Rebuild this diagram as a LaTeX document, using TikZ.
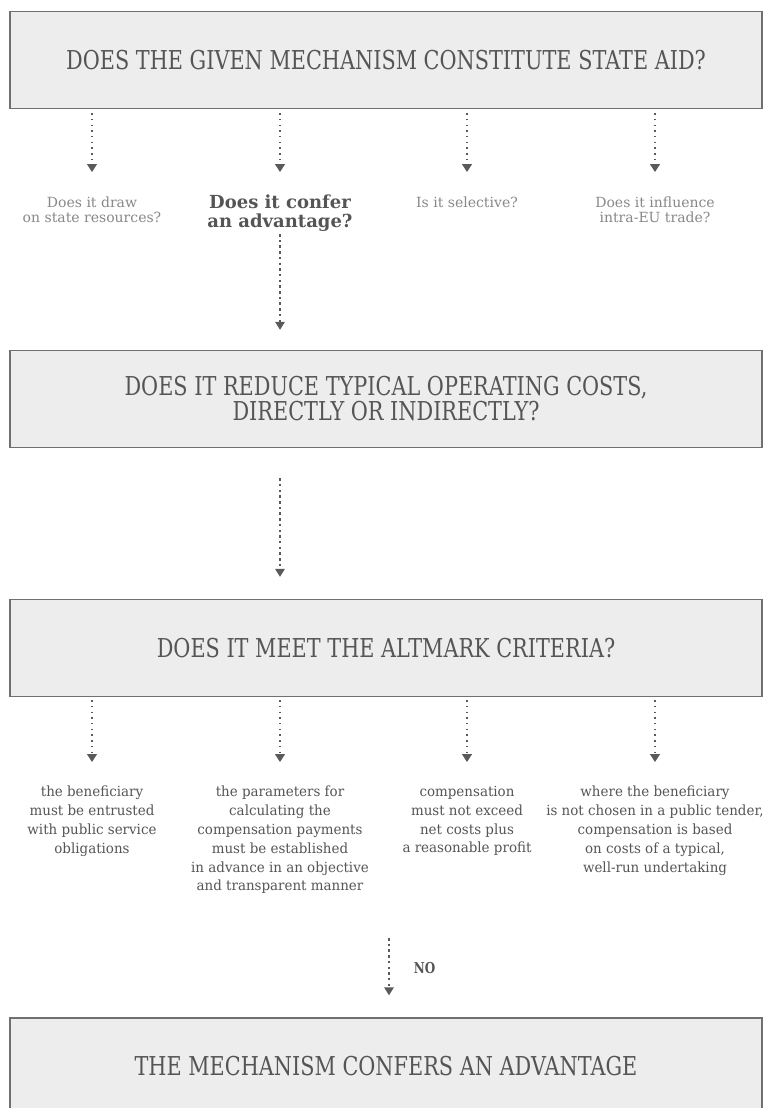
\documentclass[tikz,border=0pt]{standalone}
\usepackage{fontspec}
\setmainfont{DejaVu Serif}[FakeStretch=0.8]
\newfontfamily\plainfont{DejaVu Serif}
\newfontfamily\lblfont{DejaVu Serif}[FakeStretch=0.96]
\usetikzlibrary{arrows.meta}
\definecolor{boxfill}{HTML}{EDEDED}
\definecolor{boxline}{HTML}{707070}
\definecolor{ink}{HTML}{555555}
\definecolor{lightink}{HTML}{888888}
\definecolor{arrowc}{HTML}{5A5A5A}
\begin{document}
\begin{tikzpicture}[x=1pt,y=-1pt,
  titlebox/.style={draw=boxline, fill=boxfill, line width=1.5pt,
    minimum width=752pt, minimum height=97pt, inner sep=0pt,
    align=center, text=ink, font=\fontsize{26}{25}\selectfont},
  toplabel/.style={align=center, inner sep=0pt, anchor=north,
    text=lightink, font=\plainfont\fontsize{14}{15}\selectfont},
  keylabel/.style={align=center, inner sep=0pt, anchor=north,
    text=ink, font=\plainfont\bfseries\fontsize{18}{19}\selectfont},
  critlabel/.style={align=center, inner sep=0pt, anchor=north,
    text=ink, font=\lblfont\fontsize{14}{18.8}\selectfont},
  thinarrow/.style={draw=arrowc, line width=1.3pt,
    dash pattern=on 1.4pt off 4.3pt,
    -{Triangle[width=10pt,length=8pt,fill=arrowc]}},
  thickarrow/.style={draw=arrowc, line width=2.5pt,
    dash pattern=on 2.5pt off 3.2pt,
    -{Triangle[width=10pt,length=8pt,fill=arrowc,line width=0pt]}},
]
\clip (0,0) rectangle (763,1108);
\fill[white] (0,0) rectangle (763,1108);

% boxes
\node[titlebox] (b1) at (386,60) {DOES THE GIVEN MECHANISM CONSTITUTE STATE AID?};
\node[titlebox] (b2) at (386,399) {DOES IT REDUCE TYPICAL OPERATING COSTS,\\DIRECTLY OR INDIRECTLY?};
\node[titlebox] (b3) at (386,648) {DOES IT MEET THE ALTMARK CRITERIA?};
\node[titlebox] (b4) at (386,1066.5) {THE MECHANISM CONFERS AN ADVANTAGE};

% top questions
\node[toplabel] (q1) at (92,197) {Does it draw\\on state resources?};
\node[keylabel] (q2) at (280,195) {Does it confer\\an advantage?};
\node[toplabel] (q3) at (467,197) {Is it selective?};
\node[toplabel] (q4) at (655,197) {Does it influence\\intra-EU trade?};

\foreach \q in {q1,q3,q4}
  \draw[thinarrow, shorten <=4pt, shorten >=25pt] (b1.south -| \q.north) -- (\q.north);
\draw[thinarrow, shorten <=4pt, shorten >=23pt] (b1.south -| q2.north) -- (q2.north);

\draw[thickarrow, shorten <=2pt, shorten >=20pt] (q2.south) -- (b2.north -| q2.south);
\draw[thickarrow, shorten <=30pt, shorten >=22pt] (b2.south -| q2.south) -- (b3.north -| q2.south);

% Altmark criteria
\node[critlabel] (c1) at (92,786) {the beneficiary\\must be entrusted\\with public service\\obligations};
\node[critlabel] (c2) at (280,786) {the parameters for\\calculating the\\compensation payments\\must be established\\in advance in an objective\\and transparent manner};
\node[critlabel] (c3) at (467,786) {compensation\\must not exceed\\net costs plus\\a reasonable profit};
\node[critlabel] (c4) at (655,786) {where the beneficiary\\is not chosen in a public tender,\\compensation is based\\on costs of a typical,\\well-run undertaking};

\foreach \c in {c1,c2,c3,c4}
  \draw[thinarrow, shorten <=3pt, shorten >=24pt] (b3.south -| \c.north) -- (\c.north);

% NO arrow
\coordinate (nostart) at (389,938);
\draw[thickarrow, shorten >=22pt] (nostart) -- (b4.north -| nostart);
\node[inner sep=0pt, text=ink, font=\bfseries\fontsize{15}{15}\selectfont] (nolabel) at (424.5,968) {NO};
\end{tikzpicture}
\end{document}
